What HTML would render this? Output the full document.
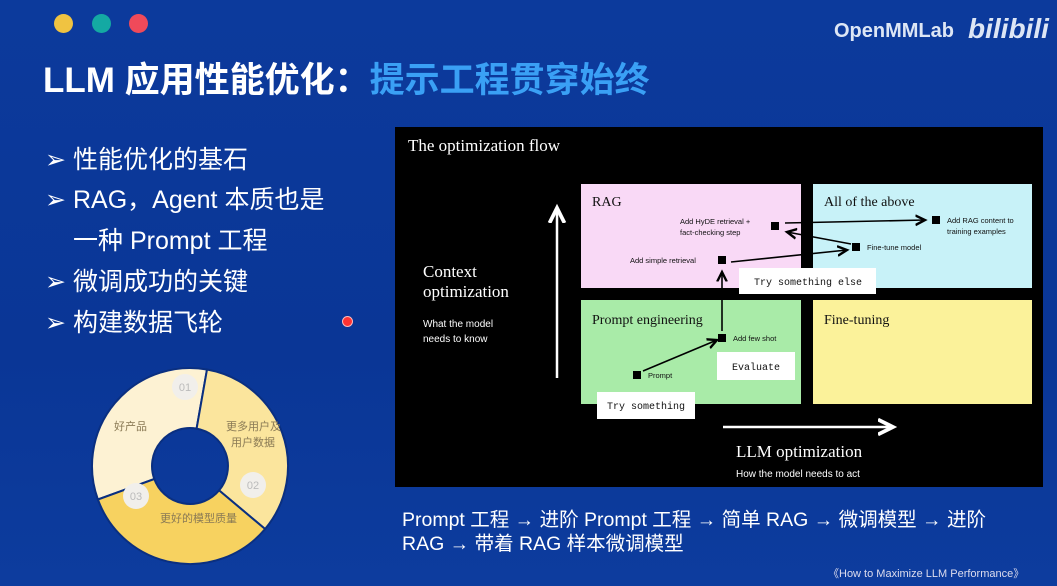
<!DOCTYPE html>
<html><head><meta charset="utf-8"><style>
body{margin:0;width:1057px;height:586px;overflow:hidden;background:linear-gradient(180deg,#0c3a9c 0%,#0a3696 60%,#0d3c9e 100%);font-family:"Liberation Sans","Noto Sans CJK SC",sans-serif;position:relative;color:#fff}
.a{position:absolute;white-space:nowrap}
.dot{position:absolute;width:19px;height:19px;border-radius:50%;top:14px}
.b{font-size:25px;left:45px}
.b span{display:inline-block;width:28px}
</style></head><body>
<div class="dot" style="left:54px;background:#f0c341"></div>
<div class="dot" style="left:92px;background:#14a9a3"></div>
<div class="dot" style="left:129px;background:#ef4a5a"></div>
<div class="a" style="left:43px;top:52px;font-size:35px;font-weight:bold">LLM 应用性能优化：<span style="color:#3aa0f5">提示工程贯穿始终</span></div>
<div class="a" style="left:834px;top:20px;font-size:20px;font-weight:bold;color:#dde6f5">OpenMMLab</div>
<div class="a" style="left:968px;top:13px;font-size:28px;font-weight:bold;color:#dde6f5;font-style:italic">bilibili</div>
<div class="a b" style="top:140px"><span>➢</span>性能优化的基石</div>
<div class="a b" style="top:180px"><span>➢</span>RAG，Agent 本质也是</div>
<div class="a b" style="top:221px"><span></span>一种 Prompt 工程</div>
<div class="a b" style="top:262px"><span>➢</span>微调成功的关键</div>
<div class="a b" style="top:303px"><span>➢</span>构建数据飞轮</div>
<div class="a" style="left:342px;top:316px;width:9px;height:9px;border-radius:50%;background:#f33;border:1px solid #fbb"></div>
<svg class="a" style="left:0;top:0" width="1057" height="586">
<path d="M97.9 499.5 A98 98 0 0 1 207 369.5 L196.6 428.6 A38 38 0 0 0 154.3 479 Z" fill="#fdf2d3" stroke="#0a2f80" stroke-width="2"/>
<path d="M207 369.5 A98 98 0 0 1 265.1 529 L219.1 490.4 A38 38 0 0 0 196.6 428.6 Z" fill="#fbe59d" stroke="#0a2f80" stroke-width="2"/>
<path d="M265.1 529 A98 98 0 0 1 97.9 499.5 L154.3 479 A38 38 0 0 0 219.1 490.4 Z" fill="#f7d260" stroke="#0a2f80" stroke-width="2"/>
<circle cx="185" cy="387" r="13" fill="#f1efeb"/><text x="185" y="391" font-size="11" fill="#bbb" text-anchor="middle">01</text>
<circle cx="253" cy="485" r="13" fill="#f1efeb"/><text x="253" y="489" font-size="11" fill="#bbb" text-anchor="middle">02</text>
<circle cx="136" cy="496" r="13" fill="#f1efeb"/><text x="136" y="500" font-size="11" fill="#bbb" text-anchor="middle">03</text>
<g font-family="Noto Sans CJK SC,sans-serif" font-size="11" fill="#8a7a55">
<text x="114" y="430">好产品</text><text x="226" y="430">更多用户及</text><text x="231" y="446">用户数据</text><text x="160" y="522">更好的模型质量</text></g>
<rect x="395" y="127" width="648" height="360" fill="#000"/>
<g font-family="Liberation Serif,serif" fill="#fff">
<text x="408" y="151" font-size="17">The optimization flow</text>
<text x="423" y="277" font-size="17">Context</text><text x="423" y="297" font-size="17">optimization</text>
<text x="736" y="457" font-size="17">LLM optimization</text></g>
<g font-size="10" fill="#fff"><text x="423" y="327">What the model</text><text x="423" y="342">needs to know</text><text x="736" y="477">How the model needs to act</text></g>
<rect x="581" y="184" width="220" height="104" fill="#f9d9f6"/>
<rect x="813" y="184" width="219" height="104" fill="#c8f2f8"/>
<rect x="581" y="300" width="220" height="104" fill="#a9eba8"/>
<rect x="813" y="300" width="219" height="104" fill="#fbf29a"/>
<g font-family="Liberation Serif,serif" font-size="14" fill="#111">
<text x="592" y="206">RAG</text><text x="824" y="206">All of the above</text>
<text x="592" y="324">Prompt engineering</text><text x="824" y="324">Fine-tuning</text></g>
<defs><marker id="m" markerWidth="8" markerHeight="8" refX="6" refY="4" orient="auto"><path d="M0 1 L6 4 L0 7" fill="none" stroke="#000" stroke-width="1.5"/></marker>
<marker id="w" markerWidth="8" markerHeight="8" refX="6" refY="4" orient="auto"><path d="M0 1 L6 4 L0 7" fill="none" stroke="#fff" stroke-width="1.5"/></marker></defs>
<line x1="557" y1="378" x2="557" y2="208" stroke="#fff" stroke-width="2.5" marker-end="url(#w)"/>
<line x1="723" y1="427" x2="893" y2="427" stroke="#fff" stroke-width="2.5" marker-end="url(#w)"/>
<g stroke="#000" stroke-width="1.6" fill="none">
<line x1="643" y1="371" x2="717" y2="340" marker-end="url(#m)"/>
<line x1="722" y1="331" x2="722" y2="272" marker-end="url(#m)"/>
<line x1="731" y1="262" x2="847" y2="250" marker-end="url(#m)"/>
<line x1="851" y1="244" x2="787" y2="232" marker-end="url(#m)"/>
<line x1="785" y1="223" x2="925" y2="220" marker-end="url(#m)"/>
</g>
<g fill="#000"><rect x="633" y="371" width="8" height="8"/><rect x="718" y="334" width="8" height="8"/><rect x="718" y="256" width="8" height="8"/><rect x="771" y="222" width="8" height="8"/><rect x="852" y="243" width="8" height="8"/><rect x="932" y="216" width="8" height="8"/></g>
<g font-size="7.5" fill="#111">
<text x="680" y="224">Add HyDE retrieval +</text><text x="680" y="235">fact-checking step</text>
<text x="630" y="263">Add simple retrieval</text>
<text x="947" y="223">Add RAG content to</text><text x="947" y="234">training examples</text>
<text x="867" y="250">Fine-tune model</text>
<text x="733" y="341">Add few shot</text><text x="648" y="378">Prompt</text></g>
<rect x="739" y="268" width="137" height="26" fill="#fff"/>
<rect x="717" y="352" width="78" height="28" fill="#fff"/>
<rect x="597" y="392" width="98" height="27" fill="#fff"/>
<g font-family="Liberation Mono,monospace" font-size="10" fill="#111">
<text x="754" y="285">Try something else</text><text x="732" y="370">Evaluate</text><text x="607" y="409">Try something</text></g>
</svg>
<div class="a" style="left:402px;top:503px;font-size:19.5px">Prompt 工程 → 进阶 Prompt 工程 → 简单 RAG → 微调模型 → 进阶</div>
<div class="a" style="left:402px;top:527px;font-size:19.5px">RAG → 带着 RAG 样本微调模型</div>
<div class="a" style="left:828px;top:565px;font-size:11px;color:#dde">《How to Maximize LLM Performance》</div>
</body></html>
